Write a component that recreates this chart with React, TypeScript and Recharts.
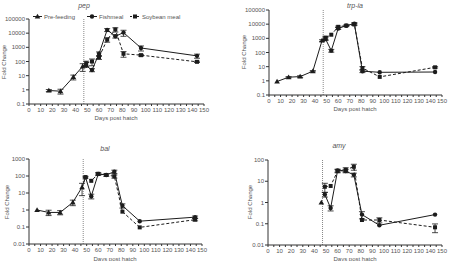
import React from 'react';
import { LineChart, Line, XAxis, YAxis, ReferenceLine, ErrorBar } from 'recharts';

const INK = '#1c1c1c';
const TEXT = '#555555';
const AXIS = '#333333';
const FONT = '"Liberation Sans", Arial, Helvetica, sans-serif';

// Shared sampling days after the start of feeding
const feedDays = [49, 54, 60, 67, 74, 81, 96, 144];
const feedStartDay = 47;
const xTicks = Array.from({ length: 31 }, (_, i) => i * 5);

// pep
const pepPreDays = [17, 27, 38, 46];
const pepPre = [0.9, 0.8, 8, 45];
const pepPreErr = [0.15, 0.3, 3, 25];
const pepFish = [50, 25, 350, 17000, 6000, 11000, 900, 250];
const pepFishErr = [0, 6, 120, 4000, 1500, 5000, 350, 80];
const pepSoy = [75, 100, 200, 3500, 18000, 350, 280, 95];
const pepSoyErr = [30, 50, 60, 1200, 6000, 150, 40, 10];
const pepTicks = [0.1, 1, 10, 100, 1000, 10000, 100000];

// trp-ia
const trpPreDays = [7, 17, 27, 38, 46];
const trpPre = [0.9, 1.8, 2, 4.8, 700];
const trpPreErr = [0, 0.2, 0.3, 0.5, 100];
const trpFish = [900, 135, 5000, 7800, 11000, 4.8, 4, 4.2];
const trpFishErr = [200, 30, 800, 1000, 2000, 1, 0, 0];
const trpSoy = [1100, 1800, 6500, 8000, 9500, 8, 1.9, 9];
const trpSoyErr = [300, 0, 800, 0, 1500, 2, 0, 1];
const trpTicks = [0.1, 1, 10, 100, 1000, 10000, 100000];

// bal
const balPreDays = [7, 17, 27, 38, 46];
const balPre = [1.0, 0.72, 0.72, 2.8, 22];
const balPreErr = [0, 0.25, 0.2, 1, 15];
const balFish = [85, 6.5, 130, 115, 180, 1.8, 0.22, 0.38];
const balFishErr = [10, 2, 20, 20, 40, 0.5, 0, 0.06];
const balSoy = [85, 52, 135, 115, 95, 0.8, 0.095, 0.27];
const balSoyErr = [0, 0, 20, 0, 20, 0, 0, 0.04];
const balTicks = [0.01, 0.1, 1, 10, 100, 1000];

// amy
const amyPreDays = [46];
const amyPre = [1.0];
const amyPreErr = [0];
const amyFish = [2.4, 0.55, 32, 30, 20, 0.27, 0.085, 0.27];
const amyFishErr = [0.6, 0.15, 5, 5, 4, 0.1, 0, 0];
const amySoy = [5.5, 6, 30, 35, 48, 0.15, 0.15, 0.068];
const amySoyErr = [2.5, 0, 5, 8, 15, 0, 0.04, 0.03];
const amyTicks = [0.01, 0.1, 1, 10, 100];

type Pt = { day: number; v: number; e: number; link?: boolean };

const series = (days: number[], vals: number[], errs: number[]): Pt[] =>
  days.map((d, i) => ({ day: d, v: vals[i], e: errs[i] }));

const withLink = (pre: Pt[], pts: Pt[], link: boolean): Pt[] => {
  if (!link) return pts;
  const last = pre[pre.length - 1];
  return [{ day: last.day, v: last.v, e: 0, link: true }, ...pts];
};

const triangleDot = (p: any) => {
  const { cx, cy, index } = p;
  if (cx == null || cy == null) return <g key={`t${index}`} />;
  return (
    <polygon
      key={`t${index}`}
      points={`${cx},${cy - 2.8} ${cx - 2.8},${cy + 2} ${cx + 2.8},${cy + 2}`}
      fill={INK}
    />
  );
};

const circleDot = (p: any) => {
  const { cx, cy, index, payload } = p;
  if (cx == null || cy == null || payload?.link) return <g key={`c${index}`} />;
  return <circle key={`c${index}`} cx={cx} cy={cy} r={2.2} fill={INK} />;
};

const squareDot = (p: any) => {
  const { cx, cy, index, payload } = p;
  if (cx == null || cy == null || payload?.link) return <g key={`s${index}`} />;
  return <rect key={`s${index}`} x={cx - 2} y={cy - 2} width={4} height={4} fill={INK} />;
};

const XTick = (p: any) => {
  const { x, y, payload } = p;
  if (payload.value % 10 !== 0) return <g />;
  return (
    <text x={x} y={y} dy="0.71em" textAnchor="middle" fontSize={6} fill={TEXT} fontFamily={FONT}>
      {payload.value}
    </text>
  );
};

type PanelProps = {
  left: number;
  top: number;
  width: number;
  height: number;
  marginTop: number;
  marginRight: number;
  domain: [number, number];
  ticks: number[];
  pre: Pt[];
  fish: Pt[];
  soy: Pt[];
};

const Panel = ({ left, top, width, height, marginTop, marginRight, domain, ticks, pre, fish, soy }: PanelProps) => (
  <div style={{ position: 'absolute', left, top }}>
    <LineChart width={width} height={height} margin={{ top: marginTop, right: marginRight, bottom: 0, left: 0 }}>
      <XAxis
        type="number"
        dataKey="day"
        domain={[0, 150]}
        ticks={xTicks}
        interval={0}
        tick={<XTick />}
        tickSize={2}
        tickMargin={2}
        height={20}
        stroke={AXIS}
        allowDataOverflow
      />
      <YAxis
        scale="log"
        domain={domain}
        ticks={ticks}
        interval={0}
        allowDataOverflow
        width={29}
        tickSize={3}
        tickMargin={1}
        stroke={AXIS}
        tick={{ fontSize: 6, fill: TEXT, fontFamily: FONT }}
        tickFormatter={(v: number) => String(v)}
      />
      <ReferenceLine x={feedStartDay} stroke="#888" strokeDasharray="1 1" strokeWidth={1} />
      <Line
        data={pre}
        dataKey="v"
        type="linear"
        stroke={INK}
        strokeWidth={1}
        dot={triangleDot}
        isAnimationActive={false}
      >
        <ErrorBar dataKey="e" width={3} stroke={INK} strokeWidth={0.8} direction="y" />
      </Line>
      <Line
        data={soy}
        dataKey="v"
        type="linear"
        stroke={INK}
        strokeWidth={1}
        strokeDasharray="3 2"
        dot={squareDot}
        isAnimationActive={false}
      >
        <ErrorBar dataKey="e" width={3} stroke={INK} strokeWidth={0.8} direction="y" />
      </Line>
      <Line
        data={fish}
        dataKey="v"
        type="linear"
        stroke={INK}
        strokeWidth={1}
        dot={circleDot}
        isAnimationActive={false}
      >
        <ErrorBar dataKey="e" width={3} stroke={INK} strokeWidth={0.8} direction="y" />
      </Line>
    </LineChart>
  </div>
);

const pepPrePts = series(pepPreDays, pepPre, pepPreErr);
const trpPrePts = series(trpPreDays, trpPre, trpPreErr);
const balPrePts = series(balPreDays, balPre, balPreErr);
const amyPrePts = series(amyPreDays, amyPre, amyPreErr);

const txt = { fontFamily: FONT, fill: TEXT } as const;

const Labels = () => (
  <svg width={449} height={261} style={{ position: 'absolute', left: 0, top: 0, pointerEvents: 'none' }}>
    {/* panel titles */}
    <text x={84} y={6} dy="0.35em" textAnchor="middle" fontSize={7} fontStyle="italic" {...txt}>pep</text>
    <text x={355} y={6} dy="0.35em" textAnchor="middle" fontSize={7} fontStyle="italic" {...txt}>trp-ia</text>
    <text x={105} y={149} dy="0.35em" textAnchor="middle" fontSize={7} fontStyle="italic" {...txt}>bal</text>
    <text x={339} y={146} dy="0.35em" textAnchor="middle" fontSize={7} fontStyle="italic" {...txt}>amy</text>

    {/* axis titles */}
    <text transform="translate(4,62) rotate(-90)" dy="0.35em" textAnchor="middle" fontSize={6} {...txt}>Fold Change</text>
    <text transform="translate(244,52) rotate(-90)" dy="0.35em" textAnchor="middle" fontSize={6} {...txt}>Fold Change</text>
    <text transform="translate(7,202) rotate(-90)" dy="0.35em" textAnchor="middle" fontSize={6} {...txt}>Fold Change</text>
    <text transform="translate(250,202) rotate(-90)" dy="0.35em" textAnchor="middle" fontSize={6} {...txt}>Fold Change</text>
    <text x={116} y={118} dy="0.35em" textAnchor="middle" fontSize={6} {...txt}>Days post hatch</text>
    <text x={355} y={109} dy="0.35em" textAnchor="middle" fontSize={6} {...txt}>Days post hatch</text>
    <text x={115} y={259} dy="0.35em" textAnchor="middle" fontSize={6} {...txt}>Days post hatch</text>
    <text x={355} y={259} dy="0.35em" textAnchor="middle" fontSize={6} {...txt}>Days post hatch</text>

    {/* legend */}
    <g>
      <line x1={33} x2={42} y1={16.5} y2={16.5} stroke={INK} strokeWidth={1} />
      <polygon points="37.5,13.7 34.7,18.5 40.3,18.5" fill={INK} />
      <text x={44} y={16.5} dy="0.35em" fontSize={6} {...txt}>Pre-feeding</text>
      <line x1={87} x2={97} y1={16.5} y2={16.5} stroke={INK} strokeWidth={1} />
      <circle cx={92} cy={16.5} r={2.2} fill={INK} />
      <text x={99} y={16.5} dy="0.35em" fontSize={6} {...txt}>Fishmeal</text>
      <line x1={130} x2={140} y1={16.5} y2={16.5} stroke={INK} strokeWidth={1} strokeDasharray="2 1.5" />
      <rect x={133} y={14.5} width={4} height={4} fill={INK} />
      <text x={142} y={16.5} dy="0.35em" fontSize={6} {...txt}>Soybean meal</text>
    </g>
  </svg>
);

export default function App() {
  return (
    <div style={{ position: 'absolute', left: 0, top: 0, width: 449, height: 261, background: '#fff', overflow: 'hidden' }}>
      <Panel
        left={0}
        top={0}
        width={212}
        height={124}
        marginTop={19}
        marginRight={8}
        domain={[0.1, 100000]}
        ticks={pepTicks}
        pre={pepPrePts}
        fish={withLink(pepPrePts, series(feedDays, pepFish, pepFishErr), true)}
        soy={withLink(pepPrePts, series(feedDays, pepSoy, pepSoyErr), true)}
      />
      <Panel
        left={240}
        top={0}
        width={209}
        height={115}
        marginTop={10}
        marginRight={7}
        domain={[0.1, 100000]}
        ticks={trpTicks}
        pre={trpPrePts}
        fish={withLink(trpPrePts, series(feedDays, trpFish, trpFishErr), true)}
        soy={withLink(trpPrePts, series(feedDays, trpSoy, trpSoyErr), true)}
      />
      <Panel
        left={0}
        top={140}
        width={210}
        height={124}
        marginTop={19}
        marginRight={8}
        domain={[0.01, 1000]}
        ticks={balTicks}
        pre={balPrePts}
        fish={withLink(balPrePts, series(feedDays, balFish, balFishErr), true)}
        soy={withLink(balPrePts, series(feedDays, balSoy, balSoyErr), true)}
      />
      <Panel
        left={239}
        top={141}
        width={210}
        height={124}
        marginTop={19}
        marginRight={7}
        domain={[0.01, 100]}
        ticks={amyTicks}
        pre={amyPrePts}
        fish={series(feedDays, amyFish, amyFishErr)}
        soy={series(feedDays, amySoy, amySoyErr)}
      />
      <Labels />
    </div>
  );
}
